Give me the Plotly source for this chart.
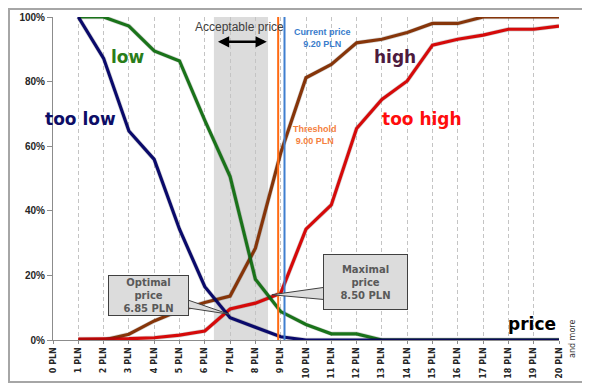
import plotly.graph_objects as go

# ---------------- data ----------------
prices = list(range(0, 21))
tick_labels = [f"{p} PLN" for p in prices]
price_pts = list(range(1, 21))
y_ticks = [0, 20, 40, 60, 80, 100]
y_tick_labels = [f"{v}%" for v in y_ticks]

too_low  = [100, 87.2, 64.7, 55.9, 34.3, 16.5, 6.9, 3.9, 1.0, 0, 0, 0, 0, 0, 0, 0, 0, 0, 0, 0]
low      = [100, 100, 97.2, 89.5, 86.4, 68.0, 50.6, 18.8, 8.8, 4.8, 1.9, 1.9, 0, 0, 0, 0, 0, 0, 0, 0]
high     = [0, 0, 1.8, 5.9, 9.1, 11.6, 13.6, 28.4, 57.9, 81.2, 85.3, 92.0, 93.1, 95.2, 98.0, 98.0, 100, 100, 100, 100]
too_high = [0.3, 0.3, 0.4, 0.7, 1.5, 2.8, 9.6, 11.4, 14.5, 34.3, 41.8, 65.5, 74.5, 80.2, 91.3, 93.1, 94.4, 96.2, 96.2, 97.2]

acceptable_range = [6.36, 8.5]
optimal_price = 6.85
maximal_price = 8.5
threshold_pos = 8.9
current_pos = 9.15

# ---------------- layout geometry ----------------
OFF = 8                      # page body margin compensation
W, H = 590 - OFF, 389 - OFF
L, T = 53 - OFF, 17 - OFF
PW, PH = 509, 326
R = W - L - PW
B = H - T - PH
SH = 3  # shadow offset px

fig = go.Figure()

series = [
    ("high", high, "#a0400c"),
    ("too high", too_high, "#ff0d0d"),
    ("low", low, "#1f8a1f"),
    ("too low", too_low, "#0d0d80"),
]

# shadows
for name, vals, col in series:
    fig.add_trace(go.Scatter(x=price_pts, y=vals, mode="lines", xaxis="x2", yaxis="y2",
                             line=dict(color="rgba(0,0,0,0.16)", width=4.5),
                             hoverinfo="skip", showlegend=False))
# lines
for name, vals, col in series:
    fig.add_trace(go.Scatter(x=price_pts, y=vals, mode="lines", name=name,
                             line=dict(color=col, width=3.2), showlegend=False))

fig.update_layout(
    width=W, height=H,
    margin=dict(l=L, r=R, t=T, b=B, pad=0, autoexpand=False),
    paper_bgcolor="white", plot_bgcolor="white",
    showlegend=False,
    xaxis=dict(domain=[0, (PW - SH) / PW], range=[0, 20], tickmode="array",
               tickvals=prices, ticktext=tick_labels, tickangle=-90, automargin=False,
               tickfont=dict(family="DejaVu Sans", size=8, color="#262626", weight="bold"),
               showgrid=True, gridcolor="#c4c4c4", griddash="4px,3px", gridwidth=1,
               showline=True, linecolor="#8c8c8c", linewidth=1,
               ticks="outside", ticklen=3, tickcolor="#8c8c8c", zeroline=False),
    yaxis=dict(domain=[SH / PH, 1], range=[0, 100], tickmode="array", tickvals=y_ticks,
               ticktext=y_tick_labels, automargin=False,
               tickfont=dict(family="Liberation Sans", size=10, color="#262626", weight="bold"),
               showgrid=False, showline=True, linecolor="#8c8c8c", linewidth=1,
               ticks="outside", ticklen=5, tickcolor="#8c8c8c", zeroline=False),
    xaxis2=dict(domain=[SH / PW, 1], range=[0, 20], visible=False, overlaying="x", anchor="y2",
                automargin=False),
    yaxis2=dict(domain=[0, (PH - SH) / PH], range=[0, 100], visible=False, overlaying="y", anchor="x2",
                automargin=False),
)

# acceptable band
fig.add_shape(type="rect", xref="x", yref="y", x0=acceptable_range[0], x1=acceptable_range[1],
              y0=0, y1=100, fillcolor="#dcdcdc", line=dict(width=0), layer="below")

# threshold & current price lines
fig.add_shape(type="line", xref="x", yref="y", x0=threshold_pos, x1=threshold_pos, y0=0, y1=100,
              line=dict(color="#ff6a13", width=2), layer="above")
fig.add_shape(type="line", xref="x", yref="y", x0=current_pos, x1=current_pos, y0=0, y1=100,
              line=dict(color="#3f7fd0", width=2), layer="above")

# outer frame (page pixel coords -> paper)
def px_x(px):
    return (px - OFF - L) / PW
def px_y(py):
    return (H - B - (py - OFF)) / PH
fig.add_shape(type="rect", xref="paper", yref="paper", x0=px_x(OFF + 1), x1=px_x(583), y0=px_y(382), y1=px_y(OFF + 1),
              line=dict(color="#a6a6a6", width=2), fillcolor="rgba(0,0,0,0)", layer="below")

# series labels
lab_font = "DejaVu Sans"
def label(text, x, y, col, size=17):
    fig.add_annotation(x=x, y=y, xref="x", yref="y", text=f"<b>{text}</b>", showarrow=False,
                       font=dict(family=lab_font, size=size, color=col))
label("low", 2.95, 87.5, "#2a7d1a")
label("too low", 1.1, 68.5, "#0d0d66")
label("high", 13.5, 87.5, "#4d1a3d")
label("too high", 14.6, 68.5, "#ff0d0d")
label("price", 18.95, 5.0, "#000000")

# acceptable price
fig.add_annotation(x=(acceptable_range[0] + acceptable_range[1]) / 2 - 0.04, y=96.8, xref="x", yref="y",
                   text="Acceptable price", showarrow=False,
                   font=dict(family="Liberation Sans", size=12, color="#404040"))
fig.add_annotation(x=acceptable_range[1] - 0.05, y=92.3, ax=acceptable_range[0] + 0.1, ay=92.3,
                   xref="x", yref="y", axref="x", ayref="y", text="", showarrow=True,
                   arrowhead=2, arrowside="end+start", arrowsize=0.9, arrowwidth=2.5, arrowcolor="#000000")

# current price & threshold text
fig.add_annotation(x=10.66, y=93.5, xref="x", yref="y", text="<b>Current price<br>9.20 PLN</b>",
                   showarrow=False, font=dict(family="Liberation Sans", size=9, color="#3a7ccc"))
fig.add_annotation(x=10.35, y=63.5, xref="x", yref="y", text="<b>Threshold<br>9.00 PLN</b>",
                   showarrow=False, font=dict(family="Liberation Sans", size=9, color="#f5803e"))

# callouts: tails then boxes
fig.add_shape(type="path", xref="x", yref="y",
              path="M 5.1 13.0 L 6.95 8.0 L 5.1 10.2 Z",
              fillcolor="#dcdcdc", line=dict(color="#404040", width=1), layer="above")
fig.add_shape(type="path", xref="x", yref="y",
              path="M 10.9 16.5 L 8.65 14.0 L 10.9 12.4 Z",
              fillcolor="#dcdcdc", line=dict(color="#404040", width=1), layer="above")

fig.add_annotation(x=3.76, y=13.75, xref="x", yref="y",
                   text=f"<b>Optimal<br>price<br>{optimal_price:.2f} PLN</b>", showarrow=False,
                   font=dict(family="DejaVu Sans", size=10, color="#595959"),
                   bgcolor="#dcdcdc", bordercolor="#404040", borderwidth=1,
                   width=77, height=37, align="center")
fig.add_annotation(x=12.36, y=17.95, xref="x", yref="y",
                   text=f"<b>Maximal<br>price<br>{maximal_price:.2f} PLN</b>", showarrow=False,
                   font=dict(family="DejaVu Sans", size=10, color="#595959"),
                   bgcolor="#dcdcdc", bordercolor="#404040", borderwidth=1,
                   width=81, height=52, align="center")

# "and more"
fig.add_annotation(x=px_x(572), y=px_y(339), xref="paper", yref="paper", text="and more", showarrow=False,
                   textangle=-90, xanchor="center", yanchor="middle",
                   font=dict(family="DejaVu Sans", size=8, color="#333333"))

fig.write_html("out.html")
